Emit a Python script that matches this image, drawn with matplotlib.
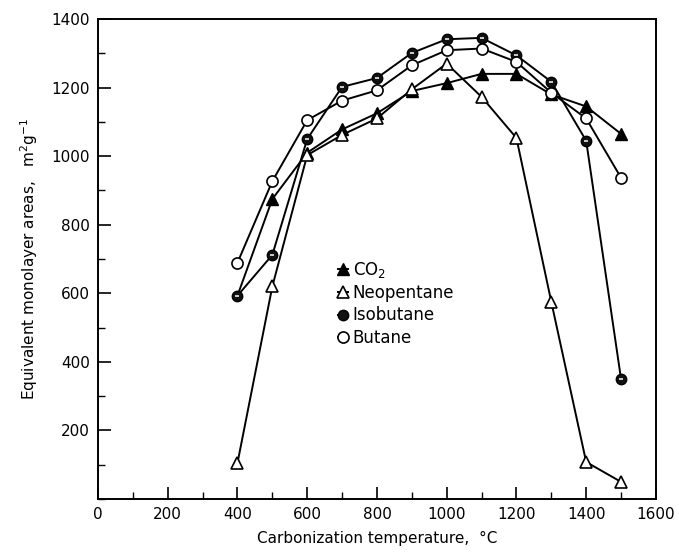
import matplotlib
matplotlib.use("Agg")
import matplotlib.pyplot as plt
from matplotlib.ticker import MultipleLocator

# carbonization temperature, deg C
temps = [400, 500, 600, 700, 800, 900, 1000, 1100, 1200, 1300, 1400, 1500]

co2 = [593, 875, 1010, 1078, 1125, 1190, 1213, 1240, 1240, 1180, 1145, 1065]
neopentane = [105, 620, 1003, 1062, 1110, 1195, 1270, 1173, 1053, 575, 108, 50]
isobutane = [593, 712, 1050, 1202, 1228, 1301, 1341, 1345, 1294, 1217, 1045, 350]
butane = [689, 927, 1105, 1162, 1192, 1265, 1309, 1314, 1275, 1185, 1110, 937]

x_ticks = list(range(0, 1601, 200))
y_ticks = list(range(200, 1401, 200))

plt.rcParams['font.family'] = ['DejaVu Sans']

fig = plt.figure(figsize=(6.79, 5.53), dpi=100)
ax = fig.add_axes([0.1443, 0.0976, 0.8217, 0.868])

lw = 1.4
ax.plot(temps, co2, color='black', lw=lw, marker='^', ms=8, mfc='black',
        mec='black', markevery=list(range(1, len(temps))), label='CO$_2$', zorder=3)
ax.plot(temps, neopentane, color='black', lw=lw, marker='^', ms=8.5, mfc='white',
        mec='black', mew=1.2, label='Neopentane', zorder=3)
ax.plot(temps, isobutane, color='black', lw=lw, marker='o', ms=7.5, mfc='#111111',
        mec='black', label='Isobutane', zorder=4)
# light speckle inside the dark circles
ax.plot(temps, isobutane, ls='none', marker='_', ms=3.5, mec='white', mew=1.1, zorder=5)
ax.plot(temps, butane, color='black', lw=lw, marker='o', ms=8, mfc='white',
        mec='black', mew=1.2, label='Butane', zorder=4)

ax.set_xlim(0, 1600)
ax.set_ylim(0, 1400)
ax.set_xticks(x_ticks)
ax.set_yticks(y_ticks)
ax.xaxis.set_minor_locator(MultipleLocator(100))
ax.yaxis.set_minor_locator(MultipleLocator(100))
ax.tick_params(which='major', direction='in', length=9, width=1.2, labelsize=11, pad=6)
ax.tick_params(which='minor', direction='in', length=5, width=1.0)
for s in ax.spines.values():
    s.set_linewidth(1.4)

ax.set_xlabel('Carbonization temperature,  °C', fontsize=11, labelpad=6)
ax.set_ylabel('Equivalent monolayer areas,   m$^2$g$^{-1}$', fontsize=11, labelpad=8)

ax.legend(loc='upper left', bbox_to_anchor=(0.415, 0.515), frameon=False,
          fontsize=12, handlelength=0.6, handletextpad=0.3, labelspacing=0.25,
          borderpad=0)

fig.savefig('out.png', dpi=100)
